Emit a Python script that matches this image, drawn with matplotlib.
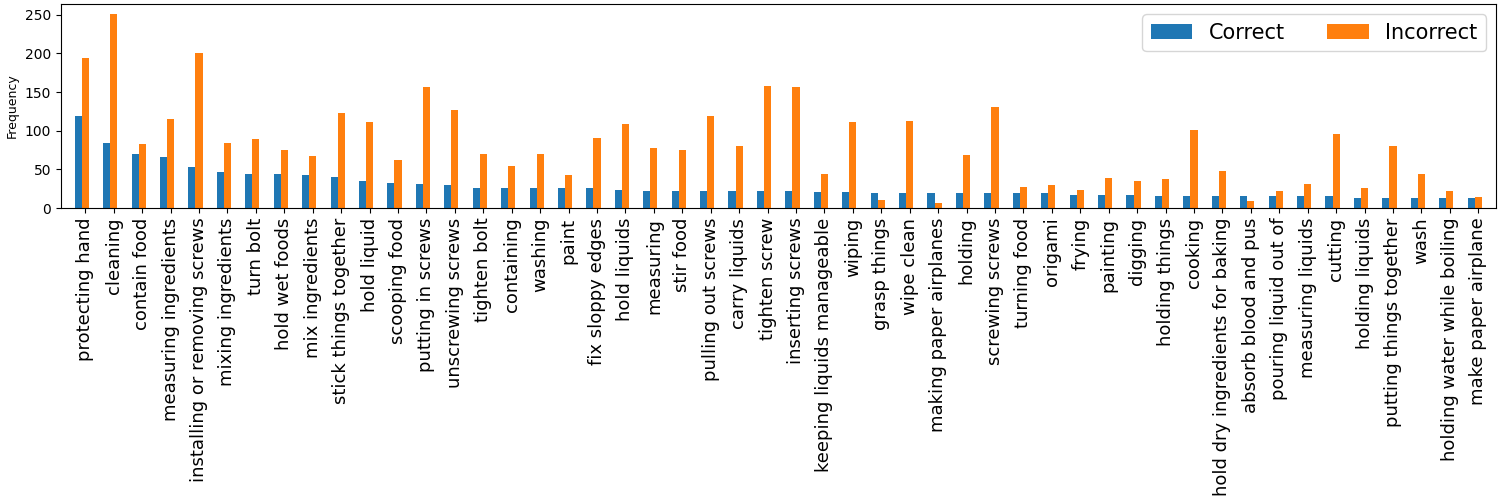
import matplotlib
matplotlib.use("Agg")
import matplotlib.pyplot as plt
import numpy as np

categories = [
    "protecting hand", "cleaning", "contain food", "measuring ingredients",
    "installing or removing screws", "mixing ingredients", "turn bolt",
    "hold wet foods", "mix ingredients", "stick things together", "hold liquid",
    "scooping food", "putting in screws", "unscrewing screws", "tighten bolt",
    "containing", "washing", "paint", "fix sloppy edges", "hold liquids",
    "measuring", "stir food", "pulling out screws", "carry liquids",
    "tighten screw", "inserting screws", "keeping liquids manageable", "wiping",
    "grasp things", "wipe clean", "making paper airplanes", "holding",
    "screwing screws", "turning food", "origami", "frying", "painting",
    "digging", "holding things", "cooking", "hold dry ingredients for baking",
    "absorb blood and pus", "pouring liquid out of", "measuring liquids",
    "cutting", "holding liquids", "putting things together", "wash",
    "holding water while boiling", "make paper airplane",
]

correct = [119, 84, 70, 66, 53, 47, 44, 44, 43, 40, 35, 32, 31, 30, 26,
           26, 26, 26, 26, 23, 22, 22, 22, 22, 22, 22, 21, 21, 20, 20, 20, 19,
           19, 19, 19, 17, 17, 17, 16, 16, 15, 15, 15, 15, 15, 13, 13, 13, 13, 13]

incorrect = [194, 251, 83, 115, 201, 84, 89, 75, 67, 123, 111, 62, 157, 127, 70,
             54, 70, 43, 91, 109, 78, 75, 119, 80, 158, 156, 44, 111, 10, 113, 7, 69,
             131, 27, 30, 23, 39, 35, 38, 101, 48, 9, 22, 31, 96, 26, 80, 44, 22, 14]

series_names = ["Correct", "Incorrect"]
colors = ["#1f77b4", "#ff7f0e"]

x = np.arange(len(categories))
w = 0.25

fig, ax = plt.subplots(figsize=(15, 5), dpi=100)
ax.bar(x - w, correct, w, color=colors[0], label=series_names[0])
ax.bar(x, incorrect, w, color=colors[1], label=series_names[1])
ax.set_xticks(x)
ax.set_xticklabels(categories, rotation=90, fontsize=13)
ax.set_xlim(-0.865, len(categories) - 1 + 0.633)
ax.set_ylim(0, 264)
ax.set_ylabel("Frequency", fontsize=9)
ax.legend(fontsize=15, ncol=2, loc="upper right")
fig.subplots_adjust(left=0.0405, right=0.9975, top=0.992, bottom=0.584)
fig.savefig("out.png", dpi=100)
